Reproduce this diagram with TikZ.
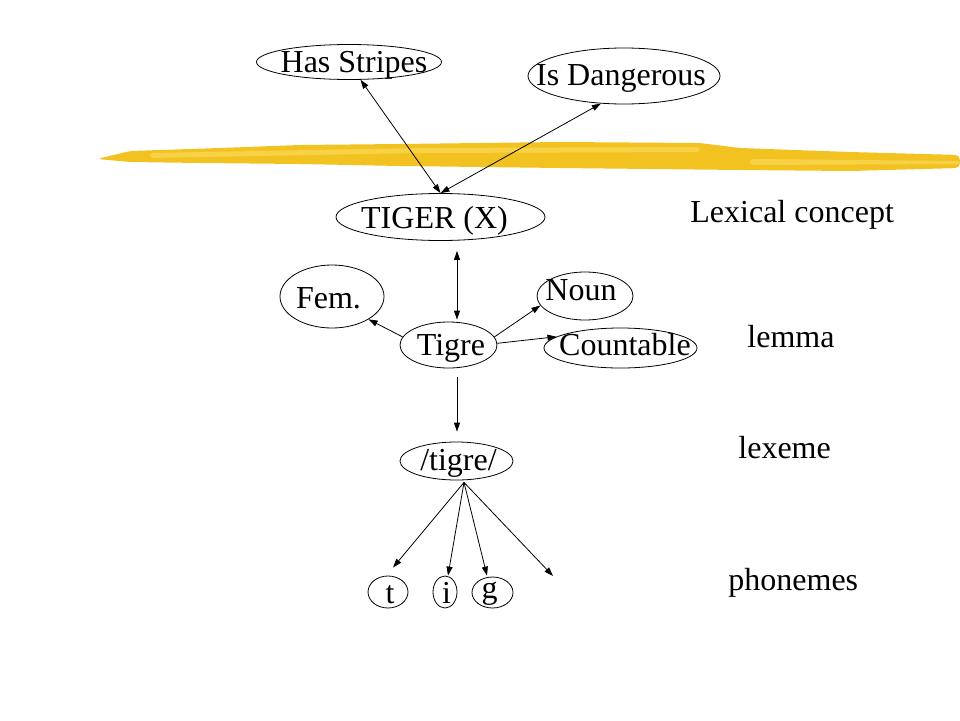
\documentclass[tikz,border=0pt]{standalone}
\usepackage{fontspec}
\setmainfont{Liberation Serif}
\usetikzlibrary{shapes.geometric,arrows.meta}
\definecolor{brush}{RGB}{242,194,32}
\definecolor{brushlight}{RGB}{248,210,70}
% text of a bubble: shift right, drop of the baseline, words
\newcommand{\wordtext}[3]{\smash{\raisebox{-#2pt}{\makebox[0pt]{\hspace*{#1pt}\hspace*{#1pt}#3}}}}

\begin{document}
\begin{tikzpicture}[x=1pt,y=-1pt,line width=.8pt,>={Triangle[length=9pt,width=6pt]},
    every node/.style={font=\fontsize{32}{38}\selectfont},
    word/.style={draw,ellipse,inner sep=0pt}]
  \useasboundingbox (0,0) rectangle (960,720);
  % yellow stroke
  \fill[brush,rounded corners=5pt] (97,159) -- (130,151) -- (220,148) -- (300,145) -- (400,144)
    -- (560,142) -- (700,143) -- (740,148) -- (850,152) -- (960,155) -- (960,168) -- (850,171)
    -- (740,170) -- (560,168) -- (400,166) -- (300,164) -- (200,163) -- (130,162) -- cycle;
  \fill[brushlight,rounded corners=3pt] (150,153) -- (420,148) -- (700,147) -- (700,152)
    -- (420,153) -- (150,158) -- cycle;
  \fill[brushlight,rounded corners=3pt] (750,159) -- (960,161) -- (960,164) -- (750,165) -- cycle;
  % concept level
  \node[word,minimum width=185pt,minimum height=35pt] (stripes) at (349,62) {\wordtext{5}{10}{Has Stripes}};
  \node[word,minimum width=192pt,minimum height=56pt] (danger) at (624,76) {\wordtext{-3}{9}{Is Dangerous}};
  \node[word,minimum width=209pt,minimum height=47pt] (tiger) at (440.5,217) {\wordtext{-6}{11}{TIGER (X)}};
  \draw[<->] (stripes.-57) -- (tiger.north);
  \draw[<->] (danger.-130) -- (tiger.north);
  % lemma level
  \node[word,minimum width=97pt,minimum height=46pt] (tigre) at (448.5,345) {\wordtext{2.5}{10}{Tigre}};
  \node[word,minimum width=104pt,minimum height=63pt] (fem) at (332,296.5) {\wordtext{-3.5}{11.5}{Fem.}};
  \node[word,minimum width=96pt,minimum height=48pt] (noun) at (585,296) {\wordtext{-4}{4}{Noun}};
  \node[word,minimum width=153pt,minimum height=40pt] (countable) at (620.5,348) {\wordtext{4.5}{7}{Countable}};
  \draw[<->] ([shift={(16.5,10)}]tiger.south) -- ([shift={(8.5,-2)}]tigre.north);
  \draw[->] (tigre.170) -- (fem.-32);
  \draw[->] (tigre.10) -- (noun.-168);
  \draw[->] (tigre.2) -- (countable.170);
  % lexeme and phonemes
  \node[word,minimum width=113pt,minimum height=38pt] (lexeme) at (456.5,461) {\wordtext{2}{9}{/tigre/}};
  \draw[->] ([shift={(8.5,9)}]tigre.south) -- ([shift={(0.5,-10)}]lexeme.north);
  \node[word,minimum width=40pt,minimum height=32pt] (t) at (388,592) {\wordtext{2}{11}{t}};
  \node[word,minimum width=24pt,minimum height=32pt] (i) at (445,592) {\wordtext{1.5}{11}{i}};
  \node[word,minimum width=41pt,minimum height=31pt] (g) at (492.5,592.5) {\wordtext{-3}{5.5}{g}};
  \coordinate (rest) at (553,576);
  \draw[->] ([shift={(7.5,2)}]lexeme.south) -- ([shift={(5,-8)}]t.north);
  \draw[->] ([shift={(7.5,2)}]lexeme.south) -- ([shift={(3,0)}]i.north);
  \draw[->] ([shift={(7.5,2)}]lexeme.south) -- ([shift={(-5.5,-1)}]g.north);
  \draw[->] ([shift={(7.5,2)}]lexeme.south) -- (rest);
  % levels
  \node[anchor=base west,inner sep=0pt] (lconcept) at (690,222) {Lexical concept};
  \node[anchor=base west,inner sep=0pt] (llemma) at (747,347) {lemma};
  \node[anchor=base west,inner sep=0pt] (llexeme) at (738,458) {lexeme};
  \node[anchor=base west,inner sep=0pt] (lphon) at (728,590) {phonemes};
\end{tikzpicture}
\end{document}
